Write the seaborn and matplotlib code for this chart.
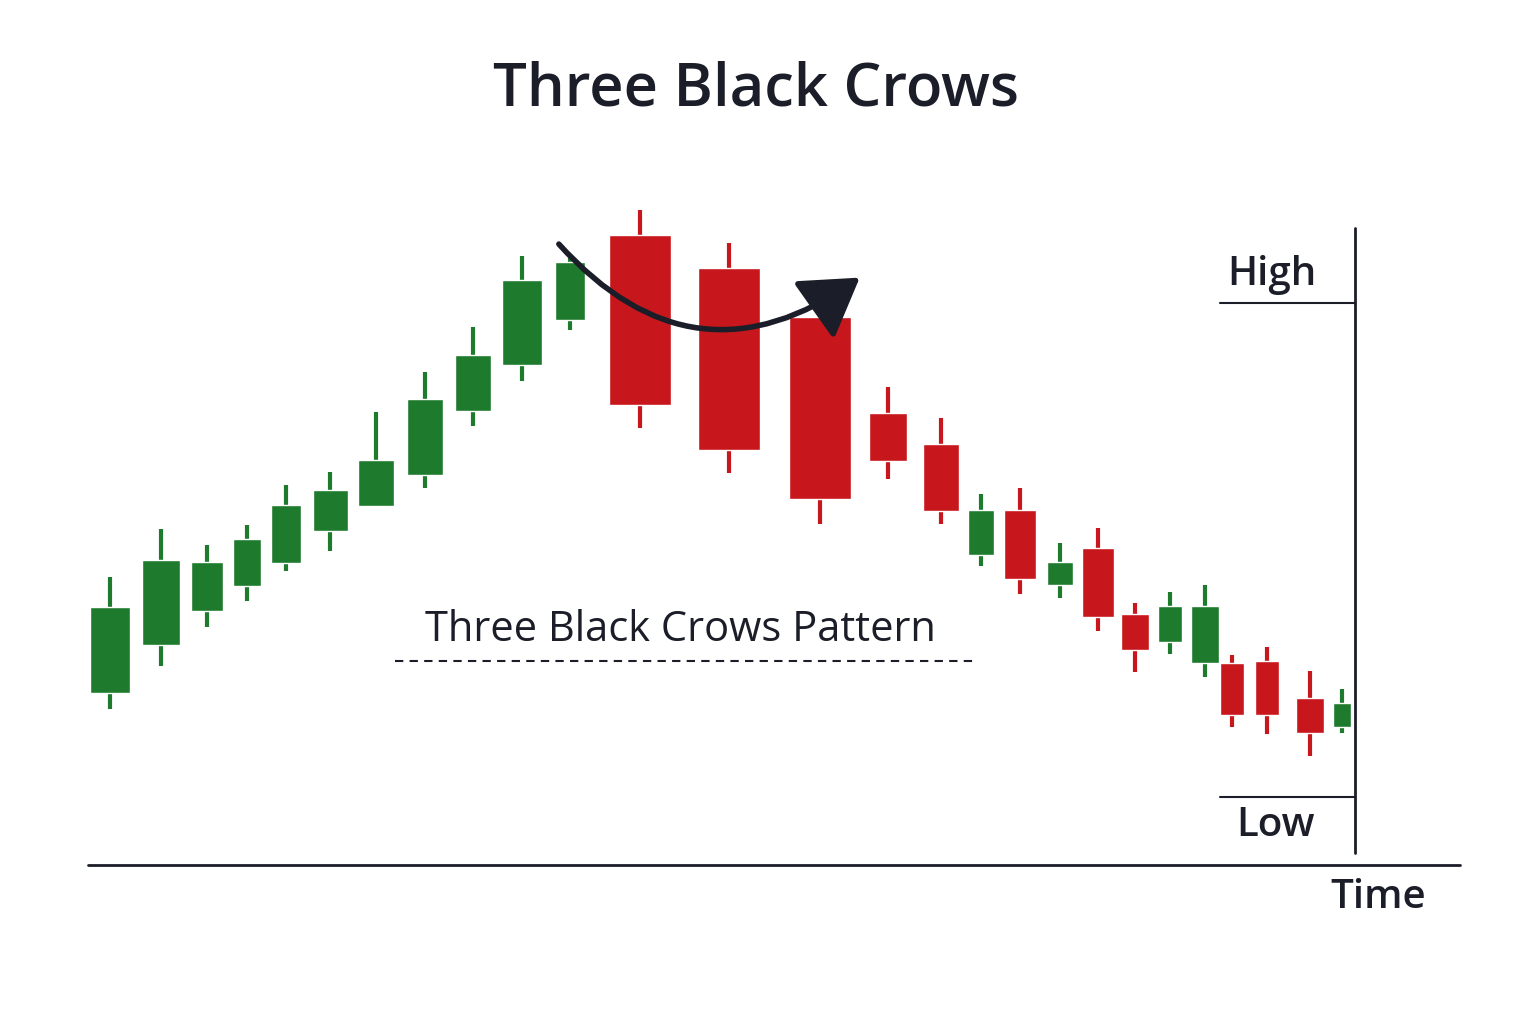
import matplotlib
matplotlib.use("Agg")
import matplotlib.pyplot as plt
import seaborn as sns
import numpy as np
import pandas as pd
from matplotlib.patches import FancyArrowPatch

# Candle data (screen-style price units, axis inverted so smaller = higher)
time = [110, 161, 207, 247, 286, 330, 376, 425, 473, 522, 570,
        640, 729, 820,
        888, 941, 981, 1020, 1060, 1098, 1135, 1170, 1205, 1232, 1267, 1310, 1342]
opens = [693, 645, 611, 586, 563, 531, 506, 475, 411, 365, 320,
         235, 268, 317,
         413, 444, 555, 510, 585, 548, 614, 642, 663, 663, 661, 698, 727]
closes = [607, 560, 562, 539, 505, 490, 460, 399, 355, 280, 262,
          405, 450, 499,
          461, 511, 510, 579, 562, 617, 650, 606, 606, 715, 715, 733, 703]
highs = [577, 529, 545, 525, 485, 472, 412, 372, 327, 256, 255,
         210, 243, 293,
         387, 418, 494, 488, 543, 528, 603, 592, 585, 655, 647, 671, 689]
lows = [709, 666, 627, 601, 571, 551, 506, 488, 426, 381, 330,
        428, 473, 524,
        479, 524, 566, 594, 598, 631, 672, 654, 677, 727, 734, 756, 733]
widths = [40, 38, 32, 28, 30, 35, 36, 36, 36, 40, 30,
          62, 62, 62,
          38, 36, 26, 32, 26, 32, 28, 24, 28, 24, 24, 28, 18]

df = pd.DataFrame({"t": time, "o": opens, "c": closes, "h": highs, "l": lows, "w": widths})
df["up"] = df["c"] < df["o"]

sns.set_theme(style="white")
plt.rcParams["font.family"] = ["Open Sans", "DejaVu Sans"]

GREEN = "#1e7b2e"
RED = "#c8171c"
INK = "#1b1e28"

fig = plt.figure(figsize=(15.36, 10.24), dpi=100)
ax = fig.add_axes([0, 0, 1, 1])
ax.set_xlim(0, 1536)
ax.set_ylim(1024, 0)
ax.axis("off")

colors = np.where(df["up"], GREEN, RED)
ax.vlines(df["t"], df["h"], df["l"], colors=colors, linewidth=3, zorder=2)
ax.bar(df["t"], df["c"] - df["o"], bottom=df["o"], width=df["w"], color=colors, zorder=3)

ax.text(756, 90, "Three Black Crows", ha="center", va="center", fontsize=43,
        fontweight="semibold", color=INK)

arrow = FancyArrowPatch((557, 242), (862, 276), connectionstyle="arc3,rad=0.45",
                        arrowstyle="-|>,head_length=1.6,head_width=1.0",
                        mutation_scale=22, lw=4, color=INK, zorder=4)
ax.add_patch(arrow)

ax.text(680, 630, "Three Black Crows Pattern", ha="center", va="center", fontsize=30,
        fontweight="medium", color=INK)
ax.plot([395, 975], [661, 661], ls=(0, (4, 3)), color=INK, lw=1.5)

ax.plot([88, 1460], [865, 865], color=INK, lw=2)
ax.plot([1355, 1355], [228, 853], color=INK, lw=2)
ax.plot([1220, 1355], [303, 303], color=INK, lw=1.5)
ax.plot([1220, 1355], [797, 797], color=INK, lw=1.5)
ax.text(1272, 275, "High", ha="center", va="center", fontsize=29, fontweight="semibold", color=INK)
ax.text(1275, 826, "Low", ha="center", va="center", fontsize=29, fontweight="semibold", color=INK)
ax.text(1378, 898, "Time", ha="center", va="center", fontsize=29, fontweight="semibold", color=INK)

fig.savefig("out.png", dpi=100, facecolor="white")
